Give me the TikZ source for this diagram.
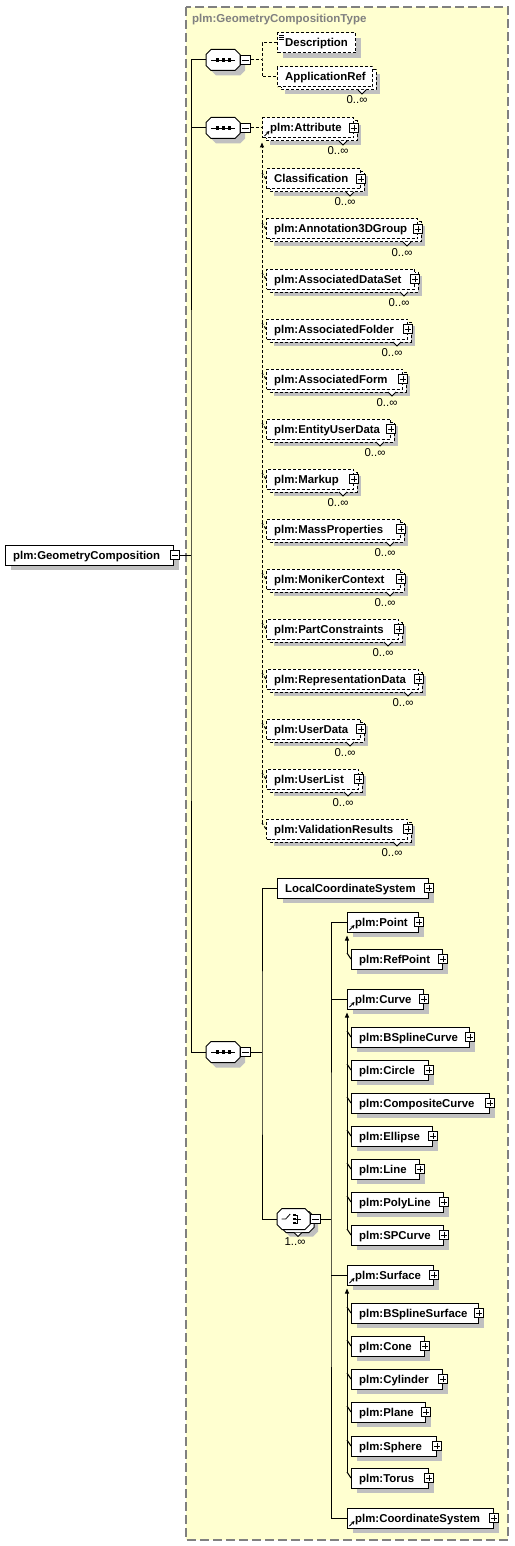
\documentclass[tikz,border=0pt]{standalone}
\usepackage{fontspec}
\setmainfont{Liberation Sans}
\usetikzlibrary{arrows.meta,shadows}
\definecolor{bgy}{RGB}{255,255,208}
\definecolor{shdc}{RGB}{192,192,192}
\definecolor{ttl}{RGB}{128,128,128}
\tikzset{
  elline/.style={draw=black,line width=1pt},
  elbox/.style={draw=black,fill=white,rectangle,inner sep=0pt,minimum height=20pt,line width=1pt},
  dsh/.style={dash pattern=on 3pt off 2pt},
  shd/.style={drop shadow={shadow xshift=5pt,shadow yshift=-5pt,fill=shdc,opacity=1}},
  eltext/.style={inner sep=0pt,font=\bfseries\fontsize{11.4}{13}\selectfont},
  occ/.style={inner sep=0pt,font=\fontsize{11.4}{13}\selectfont},
  ttltext/.style={inner sep=0pt,text=ttl,font=\bfseries\fontsize{11.5}{13}\selectfont},
  pmbox/.style={draw=black,fill=white,minimum size=9.5pt,inner sep=0pt,line width=.8pt},
  pmline/.style={line width=.8pt},
  conn/.style={line width=1pt},
  dconn/.style={line width=1pt,dash pattern=on 3pt off 2pt},
  frame/.style={draw=ttl,line width=1.1pt,dash pattern=on 9pt off 4pt,fill=bgy},
  compnode/.style={rectangle,draw=none,fill=none,minimum width=#1,minimum height=21pt,inner sep=0pt,anchor=west},
  compnode/.default=34pt,
  octline/.style={draw=black,fill=white,line width=1pt},
  refarrow/.style={line width=.9pt,-{Stealth[length=3.5pt,width=3.5pt]}},
  subarrow/.style={line width=1pt,-{Triangle[length=5pt,width=4pt]}},
}
% single element: [opts]{name}{xl}{xr}{y}{text}
\newcommand\SEL[6][]{%
  \node[elbox,#1,shd,minimum width={(#4-#3)*1pt},anchor=west] (#2) at (#3,#5) {};
  \node[eltext,anchor=base west] (#2t) at ([xshift=8pt,yshift=-4pt]#2.west) {#6};
}
% multiple element: [opts]{name}{xl}{xr}{y}{text}
\newcommand\MEL[6][]{%
  \fill[shdc] (#3+8,#5-3) rectangle (#4+8,#5+17);
  \draw[elline,#1,fill=white] (#3+4,#5-7) rectangle (#4+4,#5+13);
  \draw[elline,fill=white] (#4-14,#5+13) -- (#4-10,#5+17) -- (#4-6,#5+13);
  \node[elbox,#1,minimum width={(#4-#3)*1pt},anchor=west] (#2) at (#3,#5) {};
  \node[eltext,anchor=base west] (#2t) at ([xshift=8pt,yshift=-4pt]#2.west) {#6};
  \node[occ,anchor=base] (#2o) at (#4-15,#5+27) {0..∞};
}
% octagon: {opts}{xl}{yc}{w}
\newcommand\OCTAT[4]{%
  \path[#1] (#2+5,#3-10.5) -- (#2+#4-5,#3-10.5) -- (#2+#4,#3-5.5) -- (#2+#4,#3+5.5)
    -- (#2+#4-5,#3+10.5) -- (#2+5,#3+10.5) -- (#2,#3+5.5) -- (#2,#3-5.5) -- cycle;}
\newcommand\PLUS[1]{%
  \node[pmbox] (#1p) at (#1.east) {};
  \draw[pmline] ([xshift=2pt]#1p.west) -- ([xshift=-2pt]#1p.east)
                ([yshift=-2pt]#1p.north) -- ([yshift=2pt]#1p.south);}
\newcommand\MINUS[1]{%
  \node[pmbox,anchor=west] (#1m) at (#1.east) {};
  \draw[pmline] ([xshift=2pt]#1m.west) -- ([xshift=-2pt]#1m.east);}
\newcommand\REF[1]{\draw[refarrow] ([shift={(2.5pt,2.5pt)}]#1.south west) -- ++(5pt,5pt);}
\newcommand\TICK[2][conn]{\draw[#1] (#2.west) -- ++(-4,-6);}
\newcommand\SEQICON[1]{%
  \draw[line width=.8pt] ([xshift=-12pt]#1.center) -- ([xshift=12pt]#1.center);
  \fill ([xshift=-6pt]#1.center) +(-1.6pt,-1.6pt) rectangle +(1.6pt,1.6pt);
  \fill (#1.center) +(-1.6pt,-1.6pt) rectangle +(1.6pt,1.6pt);
  \fill ([xshift=6pt]#1.center) +(-1.6pt,-1.6pt) rectangle +(1.6pt,1.6pt);}
\begin{document}
\begin{tikzpicture}[x=1pt,y=-1pt]
\useasboundingbox (0,0) rectangle (514,1546);
\draw[frame] (186,7) rectangle (508,1540);
\node[ttltext,anchor=base west] (title) at (192,23) {plm:GeometryCompositionType};

% root
\SEL{root}{5}{173}{555}{plm:GeometryComposition}
\node[pmbox] (rootm) at ([xshift=1pt]root.east) {};
\draw[pmline] ([xshift=2pt]rootm.west) -- ([xshift=-2pt]rootm.east);

% sequences
\OCTAT{fill=shdc}{211}{65}{34}  \OCTAT{octline}{206}{60}{34}
\node[compnode] (s1) at (206,60) {}; \MINUS{s1} \SEQICON{s1}
\OCTAT{fill=shdc}{211}{133}{34} \OCTAT{octline}{206}{128}{34}
\node[compnode] (s2) at (206,128) {}; \MINUS{s2} \SEQICON{s2}
\OCTAT{fill=shdc}{211}{1057}{34} \OCTAT{octline}{206}{1052}{34}
\node[compnode] (s3) at (206,1052) {}; \MINUS{s3} \SEQICON{s3}

% sequence 1
\SEL[dsh]{desc}{277}{355}{43}{Description}
\draw[line width=.6pt] (279,35.5) -- (284,35.5) (279,37.5) -- (284,37.5) (279,39.5) -- (284,39.5);
\MEL[dsh]{appref}{277}{372}{77}{ApplicationRef}

% sequence 2
\MEL[dsh]{attr}{262}{353}{128}{plm:Attribute} \PLUS{attr} \REF{attr}
\MEL[dsh]{cls}{266}{360}{179}{Classification} \PLUS{cls}
\MEL[dsh]{ann}{266}{417}{229}{plm:Annotation3DGroup} \PLUS{ann}
\MEL[dsh]{ads}{266}{414}{279}{plm:AssociatedDataSet} \PLUS{ads}
\MEL[dsh]{afo}{266}{407}{329}{plm:AssociatedFolder} \PLUS{afo}
\MEL[dsh]{afm}{266}{402}{379}{plm:AssociatedForm} \PLUS{afm}
\MEL[dsh]{eud}{266}{390}{429}{plm:EntityUserData} \PLUS{eud}
\MEL[dsh]{mku}{266}{353}{479}{plm:Markup} \PLUS{mku}
\MEL[dsh]{mps}{266}{400}{529}{plm:MassProperties} \PLUS{mps}
\MEL[dsh]{mcx}{266}{400}{579}{plm:MonikerContext} \PLUS{mcx}
\MEL[dsh]{pcs}{266}{398}{629}{plm:PartConstraints} \PLUS{pcs}
\MEL[dsh]{rpd}{266}{418}{679}{plm:RepresentationData} \PLUS{rpd}
\MEL[dsh]{usd}{266}{360}{729}{plm:UserData} \PLUS{usd}
\MEL[dsh]{usl}{266}{358}{779}{plm:UserList} \PLUS{usl}
\MEL[dsh]{vrs}{266}{407}{829}{plm:ValidationResults} \PLUS{vrs}

% sequence 3
\SEL{lcs}{277}{428}{888}{LocalCoordinateSystem} \PLUS{lcs}

% choice
\OCTAT{fill=shdc}{285}{1226}{33}
\OCTAT{octline}{281}{1222}{33}
\draw[elline,fill=white] (294,1232.5) -- (298,1236.5) -- (302,1232.5);
\OCTAT{octline}{277}{1219}{33}
\node[compnode=33pt] (ch) at (277,1219) {};
\MINUS{ch}
\node[occ,anchor=base] (cho) at (295,1245) {1..∞};
\draw[line width=.8pt] ([xshift=-12pt]ch.center) -- ([xshift=-8pt]ch.center) -- ([shift={(-3.5pt,5pt)}]ch.center);
\fill ([xshift=0.5pt]ch.center) +(-1.3pt,-5.3pt) rectangle +(1.3pt,-2.7pt);
\fill ([xshift=0.5pt]ch.center) +(-1.3pt,-1.3pt) rectangle +(1.3pt,1.3pt);
\fill ([xshift=0.5pt]ch.center) +(-1.3pt,2.7pt) rectangle +(1.3pt,5.3pt);
\draw[line width=.8pt] ([shift={(0.5pt,4pt)}]ch.center) -- ([shift={(4pt,4pt)}]ch.center) -- ([shift={(4pt,-4pt)}]ch.center) -- ([shift={(0.5pt,-4pt)}]ch.center)
  ([xshift=0.5pt]ch.center) -- ([xshift=7.5pt]ch.center);

\SEL{pt}{347}{418}{922}{plm:Point} \PLUS{pt} \REF{pt}
\SEL{rpt}{351}{442}{959}{plm:RefPoint} \PLUS{rpt}
\SEL{crv}{347}{423}{999}{plm:Curve} \PLUS{crv} \REF{crv}
\SEL{bsc}{351}{469}{1037}{plm:BSplineCurve} \PLUS{bsc}
\SEL{cir}{351}{428}{1070}{plm:Circle} \PLUS{cir}
\SEL{cmc}{351}{489}{1103}{plm:CompositeCurve} \PLUS{cmc}
\SEL{ell}{351}{432}{1136}{plm:Ellipse} \PLUS{ell}
\SEL{lin}{351}{419}{1169}{plm:Line} \PLUS{lin}
\SEL{pln}{351}{443}{1202}{plm:PolyLine} \PLUS{pln}
\SEL{spc}{351}{443}{1235}{plm:SPCurve} \PLUS{spc}
\SEL{srf}{347}{433}{1275}{plm:Surface} \PLUS{srf} \REF{srf}
\SEL{bss}{351}{478}{1313}{plm:BSplineSurface} \PLUS{bss}
\SEL{con}{351}{424}{1346}{plm:Cone} \PLUS{con}
\SEL{cyl}{351}{442}{1379}{plm:Cylinder} \PLUS{cyl}
\SEL{pla}{351}{425}{1412}{plm:Plane} \PLUS{pla}
\SEL{sph}{351}{436}{1446}{plm:Sphere} \PLUS{sph}
\SEL{tor}{351}{428}{1478}{plm:Torus} \PLUS{tor}
\SEL{crs}{347}{493}{1518}{plm:CoordinateSystem} \PLUS{crs} \REF{crs}

% ---- connectors ----
\coordinate (rv) at (191,555);
\draw[conn] (rootm.east) -- (rv);
\draw[conn] (s1.west) -| (rv) |- (s3.west);
\draw[conn] (s2.west) -- (s2.west -| rv);

\coordinate (s1v) at (262,60);
\draw[dconn] (s1m.east) -- (s1v);
\draw[dconn] (desc.west) -| (s1v) |- (appref.west);

\draw[dconn] (s2m.east) -- (attr.west);
\draw[dconn,-{Triangle[length=5pt,width=4pt]}] ([xshift=-4pt,yshift=6pt]vrs.west) -- ([yshift=-4pt]attr.south west);
\foreach \n in {cls,ann,ads,afo,afm,eud,mku,mps,mcx,pcs,rpd,usd,usl,vrs} {\TICK[dconn]{\n}}

\coordinate (s3v) at (262,1052);
\draw[conn] (s3m.east) -- (s3v);
\draw[conn] (lcs.west) -| (s3v) |- (ch.west);

\coordinate (chv) at (331,1219);
\draw[conn] (chm.east) -- (chv);
\draw[conn] (pt.west) -| (chv) |- (crs.west);
\draw[conn] (crv.west) -- (crv.west -| chv);
\draw[conn] (srf.west) -- (srf.west -| chv);

\draw[subarrow] ([xshift=-4pt,yshift=6pt]rpt.west) -- ([yshift=-3pt]pt.south west);
\draw[subarrow] ([xshift=-4pt,yshift=6pt]spc.west) -- ([yshift=-3pt]crv.south west);
\draw[subarrow] ([xshift=-4pt,yshift=6pt]tor.west) -- ([yshift=-3pt]srf.south west);
\foreach \n in {rpt,bsc,cir,cmc,ell,lin,pln,spc,bss,con,cyl,pla,sph,tor} {\TICK{\n}}
\end{tikzpicture}
\end{document}
